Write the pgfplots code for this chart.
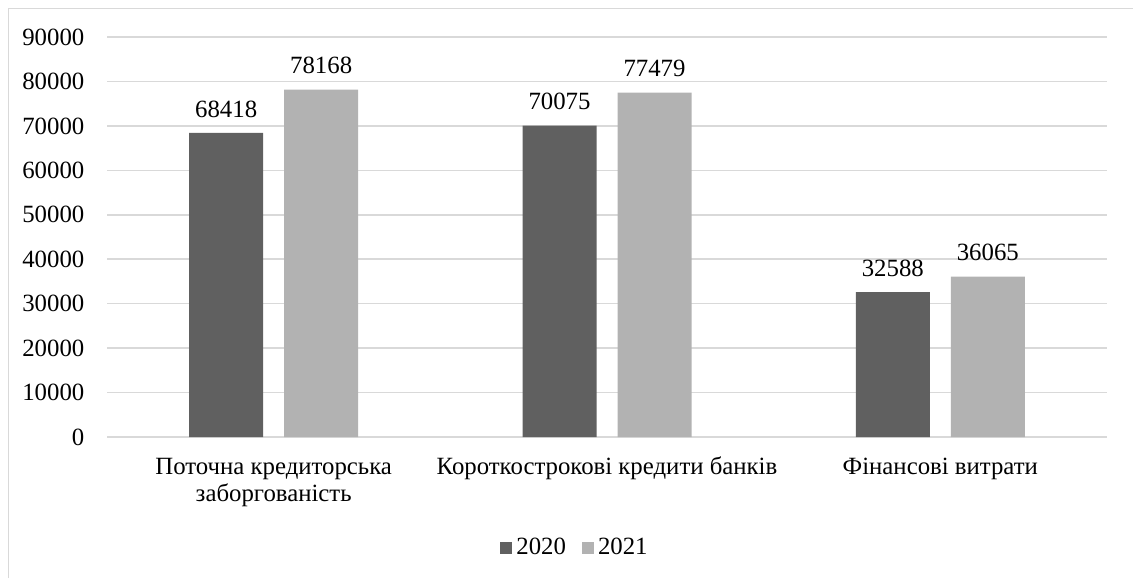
\documentclass[border=0pt]{standalone}
\usepackage{fontspec}
\setmainfont{Liberation Serif}
\usepackage{pgfplots}
\pgfplotsset{compat=1.18}
\definecolor{dark}{HTML}{606060}
\definecolor{light}{HTML}{B2B2B2}
\definecolor{gridc}{HTML}{D9D9D9}
\newcommand{\chartfont}{\fontsize{12.4pt}{13.6pt}\selectfont}
\begin{document}
\chartfont
\begin{tikzpicture}
\path[use as bounding box] (0,0) rectangle (566.5pt,289pt);
\draw[gridc, line width=0.75pt] (4.25pt,0) -- (4.25pt,284.75pt) -- (566.5pt,284.75pt);
\begin{axis}[
  at={(53.5pt,70.5pt)}, anchor=south west,
  scale only axis, width=500pt, height=200pt,
  xmin=-0.5, xmax=2.5, ymin=0, ymax=90000,
  ybar=10.5pt, bar width=37pt,
  axis line style={draw=none},
  axis x line*=bottom,
  xtick=data,
  xticklabels={{\strut Поточна кредиторська\\\strut заборгованість},{\strut Короткострокові кредити банків},{\strut Фінансові витрати}},
  xticklabel style={align=center, font=\chartfont, yshift=-5pt},
  ytick={0,10000,...,90000},
  ymajorgrids, grid style={gridc, line width=0.75pt},
  major tick length=0pt,
  scaled y ticks=false,
  /pgf/number format/assume math mode=true,
  yticklabel={\pgfmathprintnumber[fixed,1000 sep={}]{\tick}},
  yticklabel style={font=\chartfont, xshift=-7pt},
  nodes near coords,
  nodes near coords style={font=\chartfont, yshift=3.5pt, /pgf/number format/fixed, /pgf/number format/1000 sep={}},
  legend style={at={(234.5pt,-55.5pt)}, anchor=center, draw=none, legend columns=2, font=\chartfont,
    /tikz/every even column/.append style={column sep=6pt}},
  legend image code/.code={\fill[#1] (0pt,-3pt) rectangle (6pt,3pt);},
]
\addplot[fill=dark, draw=none] coordinates {(0,68418) (1,70075) (2,32588)};
\addplot[fill=light, draw=none] coordinates {(0,78168) (1,77479) (2,36065)};
\legend{2020,2021}
\end{axis}
\end{tikzpicture}
\end{document}
